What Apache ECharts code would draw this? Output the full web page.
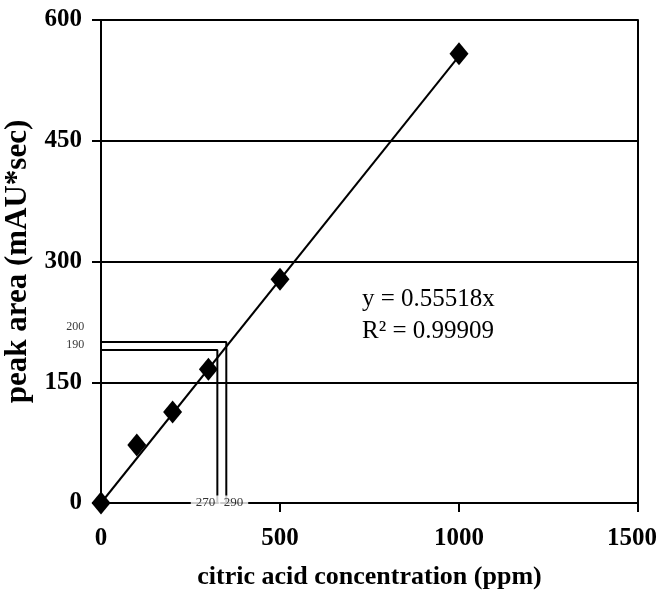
<!DOCTYPE html>
<html>
<head>
<meta charset="utf-8">
<script src="https://cdn.jsdelivr.net/npm/echarts@6/dist/echarts.min.js"></script>
<style>
  html, body { margin: 0; padding: 0; background: #fff; }
  #chart { width: 660px; height: 604px; }
</style>
</head>
<body>
<div id="chart"></div>
<script>
// calibration points
var concentration = [0, 100, 200, 300, 500, 1000];
var peakArea = [0, 72, 113, 166, 278, 558];

// fitted line y = 0.55518x, drawn between two ends
var trendX = [0, 1010];
var trendY = [0, 560.7];

// the two read-off guides (peak area -> concentration)
var guideArea = [190, 200];
var guideConc = [325, 350];
var guideAreaLabels = ['190', '200'];
var guideConcLabels = ['270', '290'];
// where those little labels sit, in data units
var guideAreaLabelY = [196, 219];
var guideAreaLabelX = -72;
var guideConcLabelX = [292, 370];

var xTicks = [0, 500, 1000, 1500];
var yTicks = [0, 150, 300, 450, 600];

var serif = '"Liberation Serif", "DejaVu Serif", serif';
var chart = echarts.init(document.getElementById('chart'));

function zip(xs, ys) {
	return xs.map(function (x, i) { return [x, ys[i]]; });
}

// one L-shaped polyline per guide
var guideSeries = guideArea.map(function (a, i) {
	return {
		type: 'line',
		data: [[0, a], [guideConc[i], a], [guideConc[i], 0]],
		symbol: 'none',
		lineStyle: { color: '#000', width: 2 },
		z: 3,
		silent: true
	};
});

var blackLine = { color: '#000', width: 2 };
var tickFont = { color: '#000', fontFamily: serif, fontWeight: 'bold', fontSize: 25 };

var option = {
	animation: false,
	backgroundColor: '#fff',
	grid: { left: 101, right: 22, top: 20, bottom: 101, outerBoundsMode: 'none', containLabel: false },
	xAxis: {
		type: 'value',
		min: xTicks[0],
		max: xTicks[xTicks.length - 1],
		interval: 500,
		name: 'citric acid concentration (ppm)',
		nameLocation: 'middle',
		nameGap: 61,
		nameTextStyle: { color: '#000', fontFamily: serif, fontWeight: 'bold', fontSize: 26 },
		axisLine: { lineStyle: blackLine },
		axisTick: { show: true, length: 9, lineStyle: blackLine },
		axisLabel: {
			color: '#000', fontFamily: serif, fontWeight: 'bold', fontSize: 25, margin: 23,
			formatter: function (v) {
				// last label is pulled a little left so it stays inside the page
				return v === xTicks[xTicks.length - 1] ? '{last|' + v + '}' : String(v);
			},
			rich: {
				last: Object.assign({ padding: [0, 12, 0, 0] }, tickFont)
			}
		},
		splitLine: { show: false }
	},
	yAxis: [
		{
			type: 'value',
			min: yTicks[0],
			max: yTicks[yTicks.length - 1],
			interval: 150,
			name: 'peak area (mAU*sec)',
			nameLocation: 'middle',
			nameGap: 59,
			nameTextStyle: { color: '#000', fontFamily: serif, fontWeight: 'bold', fontSize: 31 },
			axisLine: { show: true, lineStyle: blackLine },
			axisTick: { show: true, length: 9, lineStyle: blackLine },
			axisLabel: Object.assign({ margin: 19 }, tickFont),
			splitLine: { show: true, lineStyle: blackLine }
		},
		{
			// plain right-hand border of the plot
			type: 'value',
			position: 'right',
			min: yTicks[0],
			max: yTicks[yTicks.length - 1],
			interval: 150,
			axisLine: { show: true, lineStyle: blackLine },
			axisTick: { show: false },
			axisLabel: { show: false },
			splitLine: { show: false }
		}
	],
	graphic: [{
		type: 'text',
		left: 362,
		top: 283,
		z: 10,
		style: {
			text: 'y = 0.55518x\nR² = 0.99909',
			fill: '#000',
			font: '25px ' + serif,
			lineHeight: 32
		}
	}],
	series: guideSeries.concat([
		{
			type: 'line',
			data: zip(trendX, trendY),
			symbol: 'none',
			lineStyle: blackLine,
			z: 4,
			silent: true
		},
		{
			type: 'scatter',
			data: zip(concentration, peakArea),
			symbol: 'diamond',
			symbolSize: [19, 23],
			itemStyle: { color: '#000', opacity: 1 },
			clip: false,
			z: 5
		},
		{
			// small labels of the guides on the x axis
			type: 'scatter',
			data: guideConcLabels.map(function (t, i) {
				return { value: [guideConcLabelX[i], 0], name: t };
			}),
			symbolSize: 0,
			clip: false,
			z: 6,
			label: {
				show: true,
				position: 'inside',
				formatter: '{b}',
				color: '#000',
				fontFamily: serif,
				fontSize: 13,
				backgroundColor: '#fff',
				padding: [1, 5]
			}
		},
		{
			// small labels of the guides left of the y axis
			type: 'scatter',
			data: guideAreaLabels.map(function (t, i) {
				return { value: [guideAreaLabelX, guideAreaLabelY[i]], name: t };
			}),
			symbolSize: 0,
			clip: false,
			z: 6,
			label: {
				show: true,
				position: 'inside',
				formatter: '{b}',
				color: '#000',
				fontFamily: serif,
				fontSize: 12
			}
		}
	])
};

chart.setOption(option);
</script>
</body>
</html>
